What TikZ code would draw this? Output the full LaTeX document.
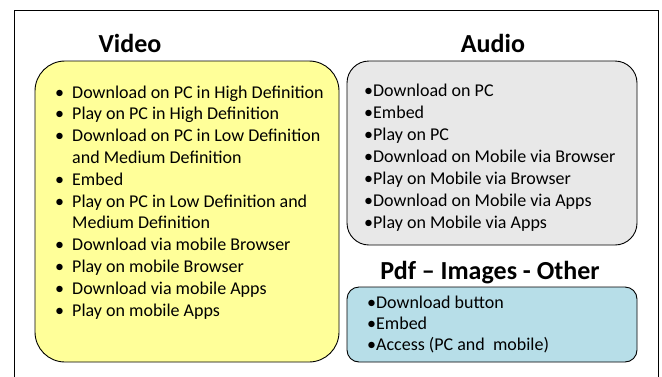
\documentclass[tikz,border=0pt]{standalone}
\usepackage{fontspec}
\setmainfont{Carlito}
\definecolor{vyellow}{RGB}{255,255,153}
\definecolor{agray}{RGB}{232,232,232}
\definecolor{pblue}{RGB}{183,222,232}
\begin{document}
\begin{tikzpicture}[x=1pt,y=-1pt,
  panel/.style={draw=black, line width=0.9pt},
  title/.style={anchor=base, inner sep=0pt, font=\fontsize{26}{30}\bfseries\selectfont},
  item/.style={anchor=base west, inner sep=0pt, font=\fontsize{18}{21}\selectfont}]
\useasboundingbox (0,0) rectangle (662,376);
\clip (0,0) rectangle (662,376);
\fill[white] (0,0) rectangle (662,376);
\draw[line width=1pt] (14,10) rectangle (658,400);
% boxes
\draw[panel, fill=vyellow, rounded corners=30pt] (35,61) rectangle (339,362);
\draw[panel, fill=agray, rounded corners=22pt] (347,61) rectangle (637,245);
\draw[panel, fill=pblue, rounded corners=12pt] (347,287) rectangle (637,362);
% titles
\node[title] (tv) at (130,52) {Video};
\node[title] (ta) at (493,52) {Audio};
\node[title] (tp) at (490,279) {Pdf – Images - Other};
% video list
\foreach \t [count=\i] in {Download on PC in High Definition,Play on PC in High Definition,Download on PC in Low Definition,and Medium Definition,Embed,Play on PC in Low Definition and,Medium Definition,Download via mobile Browser,Play on mobile Browser,Download via mobile Apps,Play on mobile Apps}{
  \node[item] (v\i) at (72,{98+21.8*(\i-1)}) {\t};
}
\foreach \i in {1,2,3,5,6,8,9,10,11}{
  \node[item] (vb\i) at (55,{98+21.8*(\i-1)}) {•};
}
% audio list
\foreach \t [count=\i] in {Download on PC,Embed,Play on PC,Download on Mobile via Browser,Play on Mobile via Browser,Download on Mobile via Apps,Play on Mobile via Apps}{
  \node[item] (a\i) at (364,{96+22*(\i-1)}) {•\t};
}
% pdf list
\foreach \t [count=\i] in {Download button,Embed,Access (PC and\ \ mobile)}{
  \node[item] (p\i) at (367,{308+21*(\i-1)}) {•\t};
}
\end{tikzpicture}
\end{document}
